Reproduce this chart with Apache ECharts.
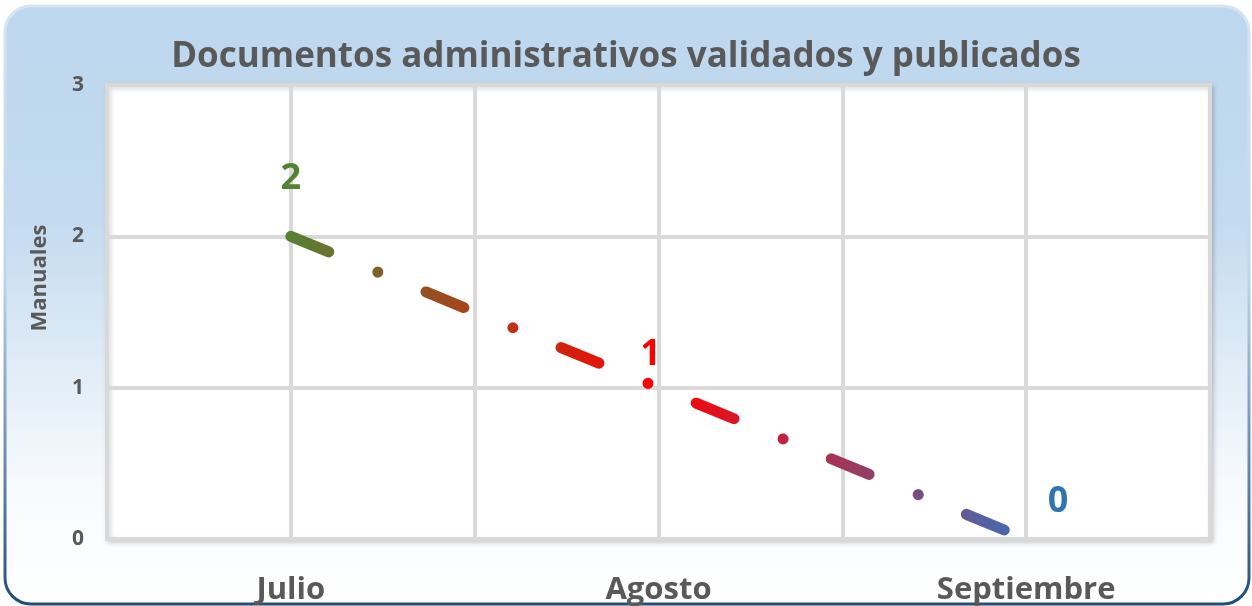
<!DOCTYPE html>
<html>
<head>
<meta charset="utf-8">
<script src="https://cdn.jsdelivr.net/npm/echarts@6/dist/echarts.min.js"></script>
<style>
  html, body { margin: 0; padding: 0; background: #fff; }
  #chart { width: 1252px; height: 606px; }
</style>
</head>
<body>
<div id="chart"></div>
<script>
// datos
const titleText = 'Documentos administrativos validados y publicados';
const months = ['Julio', 'Agosto', 'Septiembre'];
const manuales = [2, 1, 0];
const yTicks = [0, 1, 2, 3];
const axisName = 'Manuales';

const grey = '#595959';
const fontFam = '"Open Sans", "Noto Sans", sans-serif';

// colores de las etiquetas de cada punto
const labelColors = ['#548235', '#FF0000', '#2E75B6'];
const labelOffsets = [[0, -40], [-8, -15], [32, -19]];

const chart = echarts.init(document.getElementById('chart'), null, { renderer: 'canvas' });

const seriesData = manuales.map(function (v, i) {
  return {
    value: v,
    label: {
      color: labelColors[i],
      offset: labelOffsets[i]
    }
  };
});

const option = {
  animation: false,
  backgroundColor: '#fff',
  graphic: [{
    type: 'rect',
    z: -10,
    silent: true,
    shape: { x: 5, y: 6, width: 1244, height: 598, r: 26 },
    style: {
      fill: new echarts.graphic.LinearGradient(0, 0, 0, 1, [
        { offset: 0, color: '#BDD7EE' },
        { offset: 0.35, color: '#C3DAEF' },
        { offset: 0.8, color: '#F7FAFD' },
        { offset: 1, color: '#FFFFFF' }
      ]),
      stroke: new echarts.graphic.LinearGradient(0, 0, 0, 1, [
        { offset: 0, color: '#D6E4F2' },
        { offset: 0.45, color: '#BDD7EE' },
        { offset: 0.75, color: '#6C8DB8' },
        { offset: 1, color: '#1F4E79' }
      ]),
      lineWidth: 3
    }
  }],
  title: {
    text: titleText,
    left: 'center',
    top: 35,
    textStyle: {
      color: grey,
      fontFamily: fontFam,
      fontWeight: 'bold',
      fontSize: 35
    }
  },
  grid: {
    left: 107,
    right: 42,
    top: 85,
    bottom: 67,
    show: true,
    backgroundColor: '#fff',
    borderColor: '#D9D9D9',
    borderWidth: 4,
    shadowColor: 'rgba(0,0,0,0.15)',
    shadowBlur: 4,
    shadowOffsetX: 2,
    shadowOffsetY: 2
  },
  xAxis: [{
    type: 'category',
    data: months,
    boundaryGap: true,
    axisLine: { show: false },
    axisTick: { show: false },
    splitLine: { show: false },
    axisLabel: {
      color: grey,
      fontFamily: fontFam,
      fontWeight: 'bold',
      fontSize: 31,
      margin: 36
    }
  }, {
    // eje auxiliar solo para las líneas verticales
    type: 'category',
    data: ['', '', '', '', '', ''],
    boundaryGap: true,
    position: 'bottom',
    show: true,
    axisLine: { show: false },
    axisTick: { show: false },
    axisLabel: { show: false },
    splitLine: { show: true, lineStyle: { color: '#D9D9D9', width: 4 } }
  }],
  yAxis: {
    type: 'value',
    min: yTicks[0],
    max: yTicks[yTicks.length - 1],
    interval: 1,
    name: axisName,
    nameLocation: 'middle',
    nameGap: 56,
    nameTextStyle: {
      color: grey,
      fontFamily: fontFam,
      fontWeight: 'bold',
      fontSize: 22,
      padding: [0, 0, 0, 68]
    },
    axisLine: { show: false },
    axisTick: { show: false },
    splitLine: { show: true, lineStyle: { color: '#D9D9D9', width: 4 } },
    axisLabel: {
      color: grey,
      fontFamily: fontFam,
      fontWeight: 'bold',
      fontSize: 21,
      margin: 23
    }
  },
  series: [{
    type: 'line',
    xAxisIndex: 0,
    data: seriesData,
    symbol: 'circle',
    symbolSize: 0,
    showSymbol: true,
    lineStyle: {
      width: 11,
      cap: 'round',
      type: [41, 53, 0.1, 52],
      color: new echarts.graphic.LinearGradient(0, 0, 1, 0, [
        { offset: 0, color: '#548235' },
        { offset: 0.5, color: '#FF0000' },
        { offset: 1, color: '#3E6FB8' }
      ])
    },
    label: {
      show: true,
      position: 'top',
      distance: 0,
      fontFamily: fontFam,
      fontWeight: 'bold',
      fontSize: 36
    }
  }]
};

chart.setOption(option);
</script>
</body>
</html>
